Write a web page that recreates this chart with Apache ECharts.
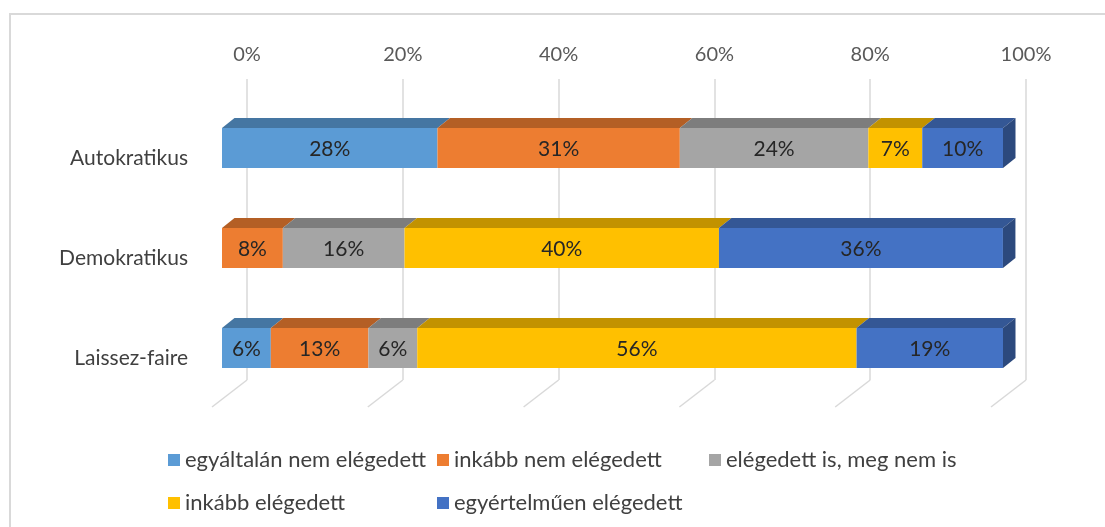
<!DOCTYPE html>
<html>
<head>
<meta charset="utf-8">
<script src="https://cdn.jsdelivr.net/npm/echarts@6/dist/echarts.min.js"></script>
<style>
html,body{margin:0;padding:0;background:#fff;}
#chart{width:1105px;height:527px;}
</style>
</head>
<body>
<div id="chart"></div>
<script>
// ---- data ----
const categories = ['Autokratikus', 'Demokratikus', 'Laissez-faire'];
const seriesNames = ['egyáltalán nem elégedett', 'inkább nem elégedett', 'elégedett is, meg nem is', 'inkább elégedett', 'egyértelműen elégedett'];
const s1 = [27.59, 0, 6.25];
const s2 = [31.03, 7.79, 12.5];
const s3 = [24.14, 15.58, 6.25];
const s4 = [6.90, 40.26, 56.25];
const s5 = [10.34, 36.36, 18.75];
const ticks = [0, 20, 40, 60, 80, 100];

const values = [s1, s2, s3, s4, s5];
const colors = ['#5B9BD5', '#ED7D31', '#A5A5A5', '#FFC000', '#4472C4'];
const FONT = 'Lato, "Liberation Sans", sans-serif';
const DX = 12.5, DY = 10;

function shade(hex, f) {
  const n = parseInt(hex.slice(1), 16);
  const r = Math.round(((n >> 16) & 255) * f), g = Math.round(((n >> 8) & 255) * f), b = Math.round((n & 255) * f);
  return 'rgb(' + r + ',' + g + ',' + b + ')';
}

const barSeries = values.map((vals, si) => {
  const data = categories.map((c, ci) => {
    let start = 0;
    for (let k = 0; k < si; k++) start += values[k][ci];
    const isLast = values.slice(si + 1).every(s => s[ci] === 0);
    return [ci, start, start + vals[ci], vals[ci], isLast ? 1 : 0];
  });
  const col = colors[si];
  return {
    type: 'custom',
    name: seriesNames[si],
    xAxisIndex: 0, yAxisIndex: 0,
    itemStyle: { color: col },
    encode: { x: [1, 2], y: 0 },
    data: data,
    z: 5,
    renderItem: function (params, api) {
      const ci = api.value(0), s = api.value(1), e = api.value(2), v = api.value(3), last = api.value(4);
      if (!(v > 0)) return { type: 'group', children: [] };
      const p0 = api.coord([s, ci]);
      const p1 = api.coord([e, ci]);
      const h = api.size([0, 1])[1] * 0.4;
      const yt = p0[1] - h / 2, yb = p0[1] + h / 2;
      const x0 = p0[0], x1 = p1[0];
      const children = [
        { type: 'polygon', shape: { points: [[x0, yt], [x1, yt], [x1 + DX, yt - DY], [x0 + DX, yt - DY]] }, style: { fill: shade(col, 0.76) } },
        { type: 'rect', shape: { x: x0, y: yt, width: x1 - x0, height: h }, style: { fill: col } }
      ];
      if (last) {
        children.push({ type: 'polygon', shape: { points: [[x1, yt], [x1 + DX, yt - DY], [x1 + DX, yb - DY], [x1, yb]] }, style: { fill: shade(col, 0.64) } });
      }
      children.push({ type: 'text', style: { text: Math.round(v) + '%', x: (x0 + x1) / 2, y: (yt + yb) / 2 + 1, align: 'center', verticalAlign: 'middle', fill: '#262626', font: '21px ' + FONT } });
      return { type: 'group', children: children };
    }
  };
});

const floorSeries = {
  type: 'custom',
  name: 'floor',
  xAxisIndex: 1, yAxisIndex: 1,
  silent: true,
  z: 1,
  data: ticks.map(t => [t, 0]),
  renderItem: function (params, api) {
    const p = api.coord([api.value(0), 0]);
    return { type: 'line', shape: { x1: p[0], y1: p[1], x2: p[0] - 35, y2: p[1] + 27 }, style: { stroke: '#d9d9d9', lineWidth: 1.5 } };
  }
};

const legendPos = [[168, 448], [437, 448], [709, 448], [168, 491], [437, 491]];
const legends = seriesNames.map((n, i) => ({
  data: [n],
  left: legendPos[i][0], top: legendPos[i][1],
  padding: 0,
  icon: 'rect', itemWidth: 12, itemHeight: 12,
  selectedMode: false,
  textStyle: { color: '#404040', fontSize: 22, fontFamily: FONT, lineHeight: 24 }
}));

const option = {
  animation: false,
  backgroundColor: '#ffffff',
  graphic: [{ type: 'rect', shape: { x: 10, y: 14, width: 1300, height: 700 }, style: { fill: 'none', stroke: '#d9d9d9', lineWidth: 2 }, z: 0, silent: true }],
  legend: legends,
  grid: [
    { left: 222, right: 102, top: 98, height: 300 },
    { left: 247, right: 79, top: 79, height: 301 }
  ],
  xAxis: [
    { gridIndex: 0, type: 'value', min: 0, max: 100, show: false },
    { gridIndex: 1, type: 'value', min: 0, max: 100, interval: 20, position: 'top',
      axisLine: { show: false }, axisTick: { show: false },
      axisLabel: { formatter: '{value}%', color: '#595959', fontSize: 20, fontFamily: FONT, margin: 14 },
      splitLine: { show: true, lineStyle: { color: '#d9d9d9', width: 1.5 } } }
  ],
  yAxis: [
    { gridIndex: 0, type: 'category', data: categories, inverse: true,
      axisLine: { show: false }, axisTick: { show: false }, splitLine: { show: false },
      axisLabel: { color: '#404040', fontSize: 21, fontFamily: FONT, margin: 34, verticalAlign: 'top', lineHeight: 21 } },
    { gridIndex: 1, type: 'value', min: 0, max: 1, show: false, splitLine: { show: false } }
  ],
  series: [floorSeries].concat(barSeries)
};

const chart = echarts.init(document.getElementById('chart'), null, { renderer: 'canvas' });
chart.setOption(option);
</script>
</body>
</html>
